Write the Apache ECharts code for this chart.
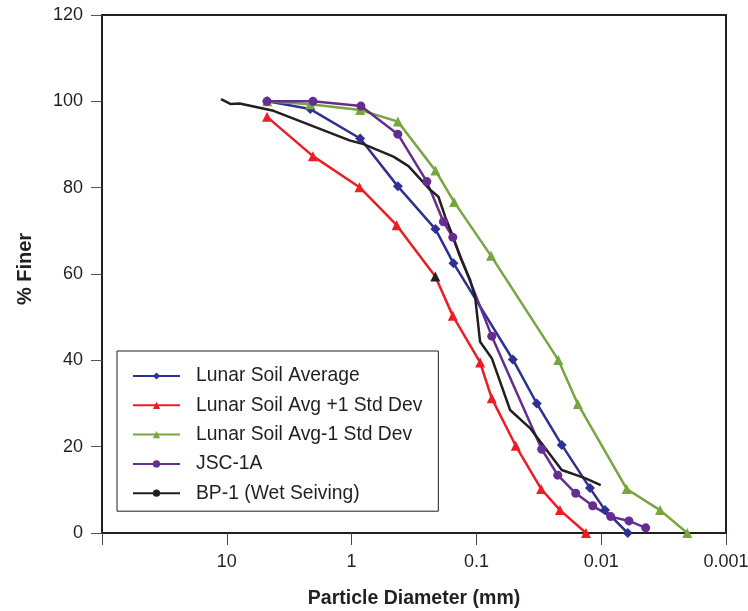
<!DOCTYPE html>
<html><head><meta charset="utf-8">
<script src="https://cdn.jsdelivr.net/npm/echarts@6/dist/echarts.min.js"></script>
<style>html,body{margin:0;padding:0;background:#fff}#c{width:748px;height:611px}</style>
</head><body><div id="c"></div>
<script>
// Particle diameter (mm) and % finer
const avgX = [4.74, 2.145, 0.853, 0.426, 0.213, 0.1528, 0.0511, 0.0328, 0.0207, 0.0123, 0.00932, 0.00613];
const avgY = [100, 98.2, 91.4, 80.3, 70.4, 62.5, 40.2, 30.0, 20.4, 10.4, 5.3, 0];
const plusX = [4.76, 2.04, 0.864, 0.4355, 0.2133, 0.1545, 0.0934, 0.0753, 0.0484, 0.0303, 0.0214, 0.01323];
const plusY = [96.4, 87.3, 80.1, 71.3, 59.4, 50.3, 39.5, 31.2, 20.2, 10.2, 5.3, 0];
const minusX = [4.74, 2.145, 0.853, 0.426, 0.213, 0.1509, 0.0763, 0.02206, 0.0154, 0.00625, 0.00338, 0.002045];
const minusY = [100, 99.3, 98.0, 95.3, 84.0, 76.7, 64.2, 40.1, 29.9, 10.2, 5.3, 0];
const jscX = [4.76, 2.04, 0.842, 0.426, 0.2495, 0.1837, 0.1545, 0.0753, 0.02995, 0.0223, 0.016, 0.0117, 0.00839, 0.00599, 0.0044];
const jscY = [100, 100, 98.9, 92.4, 81.4, 72.1, 68.5, 45.6, 19.4, 13.4, 9.2, 6.3, 3.8, 2.8, 1.2];
const bpX = [11.13, 9.37, 7.89, 4.22, 2.145, 1.026, 0.803, 0.462, 0.350, 0.2348, 0.2015, 0.178, 0.1574, 0.135, 0.1123, 0.1024, 0.0934, 0.0753, 0.0537, 0.0372, 0.0207, 0.01348, 0.01009];
const bpY = [100.5, 99.4, 99.5, 97.8, 94.5, 90.9, 90.1, 87.2, 85.0, 79.5, 77.9, 73.3, 69.4, 64.0, 58.6, 54.7, 44.3, 40.5, 28.5, 24.3, 14.6, 12.7, 11.1];
const seriesNames = ['Lunar Soil Average', 'Lunar Soil Avg +1 Std Dev', 'Lunar Soil Avg-1 Std Dev', 'JSC-1A', 'BP-1 (Wet Seiving)'];
const highlightIndexPlus = 4; // point drawn with a black marker in the source

const zip = (xs, ys) => xs.map((x, i) => [x, ys[i]]);
const FONT = '"Liberation Sans", Arial, sans-serif';
const plusData = zip(plusX, plusY).map((p, i) => i === highlightIndexPlus ? {value: p, itemStyle: {color: '#231F20'}} : p);

function mk(name, data, color, symbol, size) {
  return {
    name, type: 'line', data, symbol, symbolSize: size, showSymbol: symbol !== 'none',
    lineStyle: {color, width: 2.5}, itemStyle: {color}, animation: false
  };
}

const chart = echarts.init(document.getElementById('c'), null, {renderer: 'canvas'});
chart.setOption({
  backgroundColor: '#fff',
  animation: false,
  grid: {left: 102, right: 22, top: 15, bottom: 78, show: true, borderColor: '#231F20', borderWidth: 2,
         containLabel: false, outerBoundsMode: 'none'},
  legend: {
    orient: 'vertical', left: 117, top: 351,
    backgroundColor: '#fff', borderColor: '#231F20', borderWidth: 1,
    padding: [15, 16, 8, 15], itemGap: 9.3, itemWidth: 47, itemHeight: 9,
    textStyle: {fontFamily: FONT, fontSize: 19.3, color: '#231F20', padding: [0, 0, 0, 11], lineHeight: 20},
    data: seriesNames
  },
  xAxis: {
    type: 'log', logBase: 10, min: 0.001, max: 100, inverse: true,
    name: 'Particle Diameter (mm)', nameLocation: 'middle', nameGap: 56,
    nameTextStyle: {fontFamily: FONT, fontSize: 19.5, fontWeight: 'bold', color: '#231F20'},
    axisLine: {onZero: false, lineStyle: {color: '#231F20', width: 2}},
    axisTick: {show: true, length: 12, lineStyle: {color: '#444', width: 1}},
    minorTick: {show: false},
    splitLine: {show: false},
    axisLabel: {
      fontFamily: FONT, fontSize: 18, color: '#231F20', margin: 20, showMaxLabel: true, showMinLabel: true,
      formatter: v => v >= 99 ? '' : String(Number(Number(v).toPrecision(1)))
    }
  },
  yAxis: {
    type: 'value', min: 0, max: 120, interval: 20,
    name: '% Finer', nameLocation: 'middle', nameGap: 67, nameRotate: 90,
    nameTextStyle: {fontFamily: FONT, fontSize: 20, fontWeight: 'bold', color: '#231F20', padding: [0, 0, 0, 10]},
    axisLine: {show: true, lineStyle: {color: '#231F20', width: 2}},
    axisTick: {show: true, length: 11, lineStyle: {color: '#555', width: 1}},
    splitLine: {show: false},
    axisLabel: {fontFamily: FONT, fontSize: 18, color: '#231F20', margin: 19}
  },
  series: [
    mk(seriesNames[0], zip(avgX, avgY), '#2E3192', 'diamond', 10),
    mk(seriesNames[1], plusData, '#EE1D25', 'triangle', 10),
    mk(seriesNames[2], zip(minusX, minusY), '#77A640', 'triangle', 10),
    mk(seriesNames[3], zip(jscX, jscY), '#662D91', 'circle', 9),
    mk(seriesNames[4], zip(bpX, bpY), '#231F20', 'none', 0)
  ]
});
</script></body></html>
